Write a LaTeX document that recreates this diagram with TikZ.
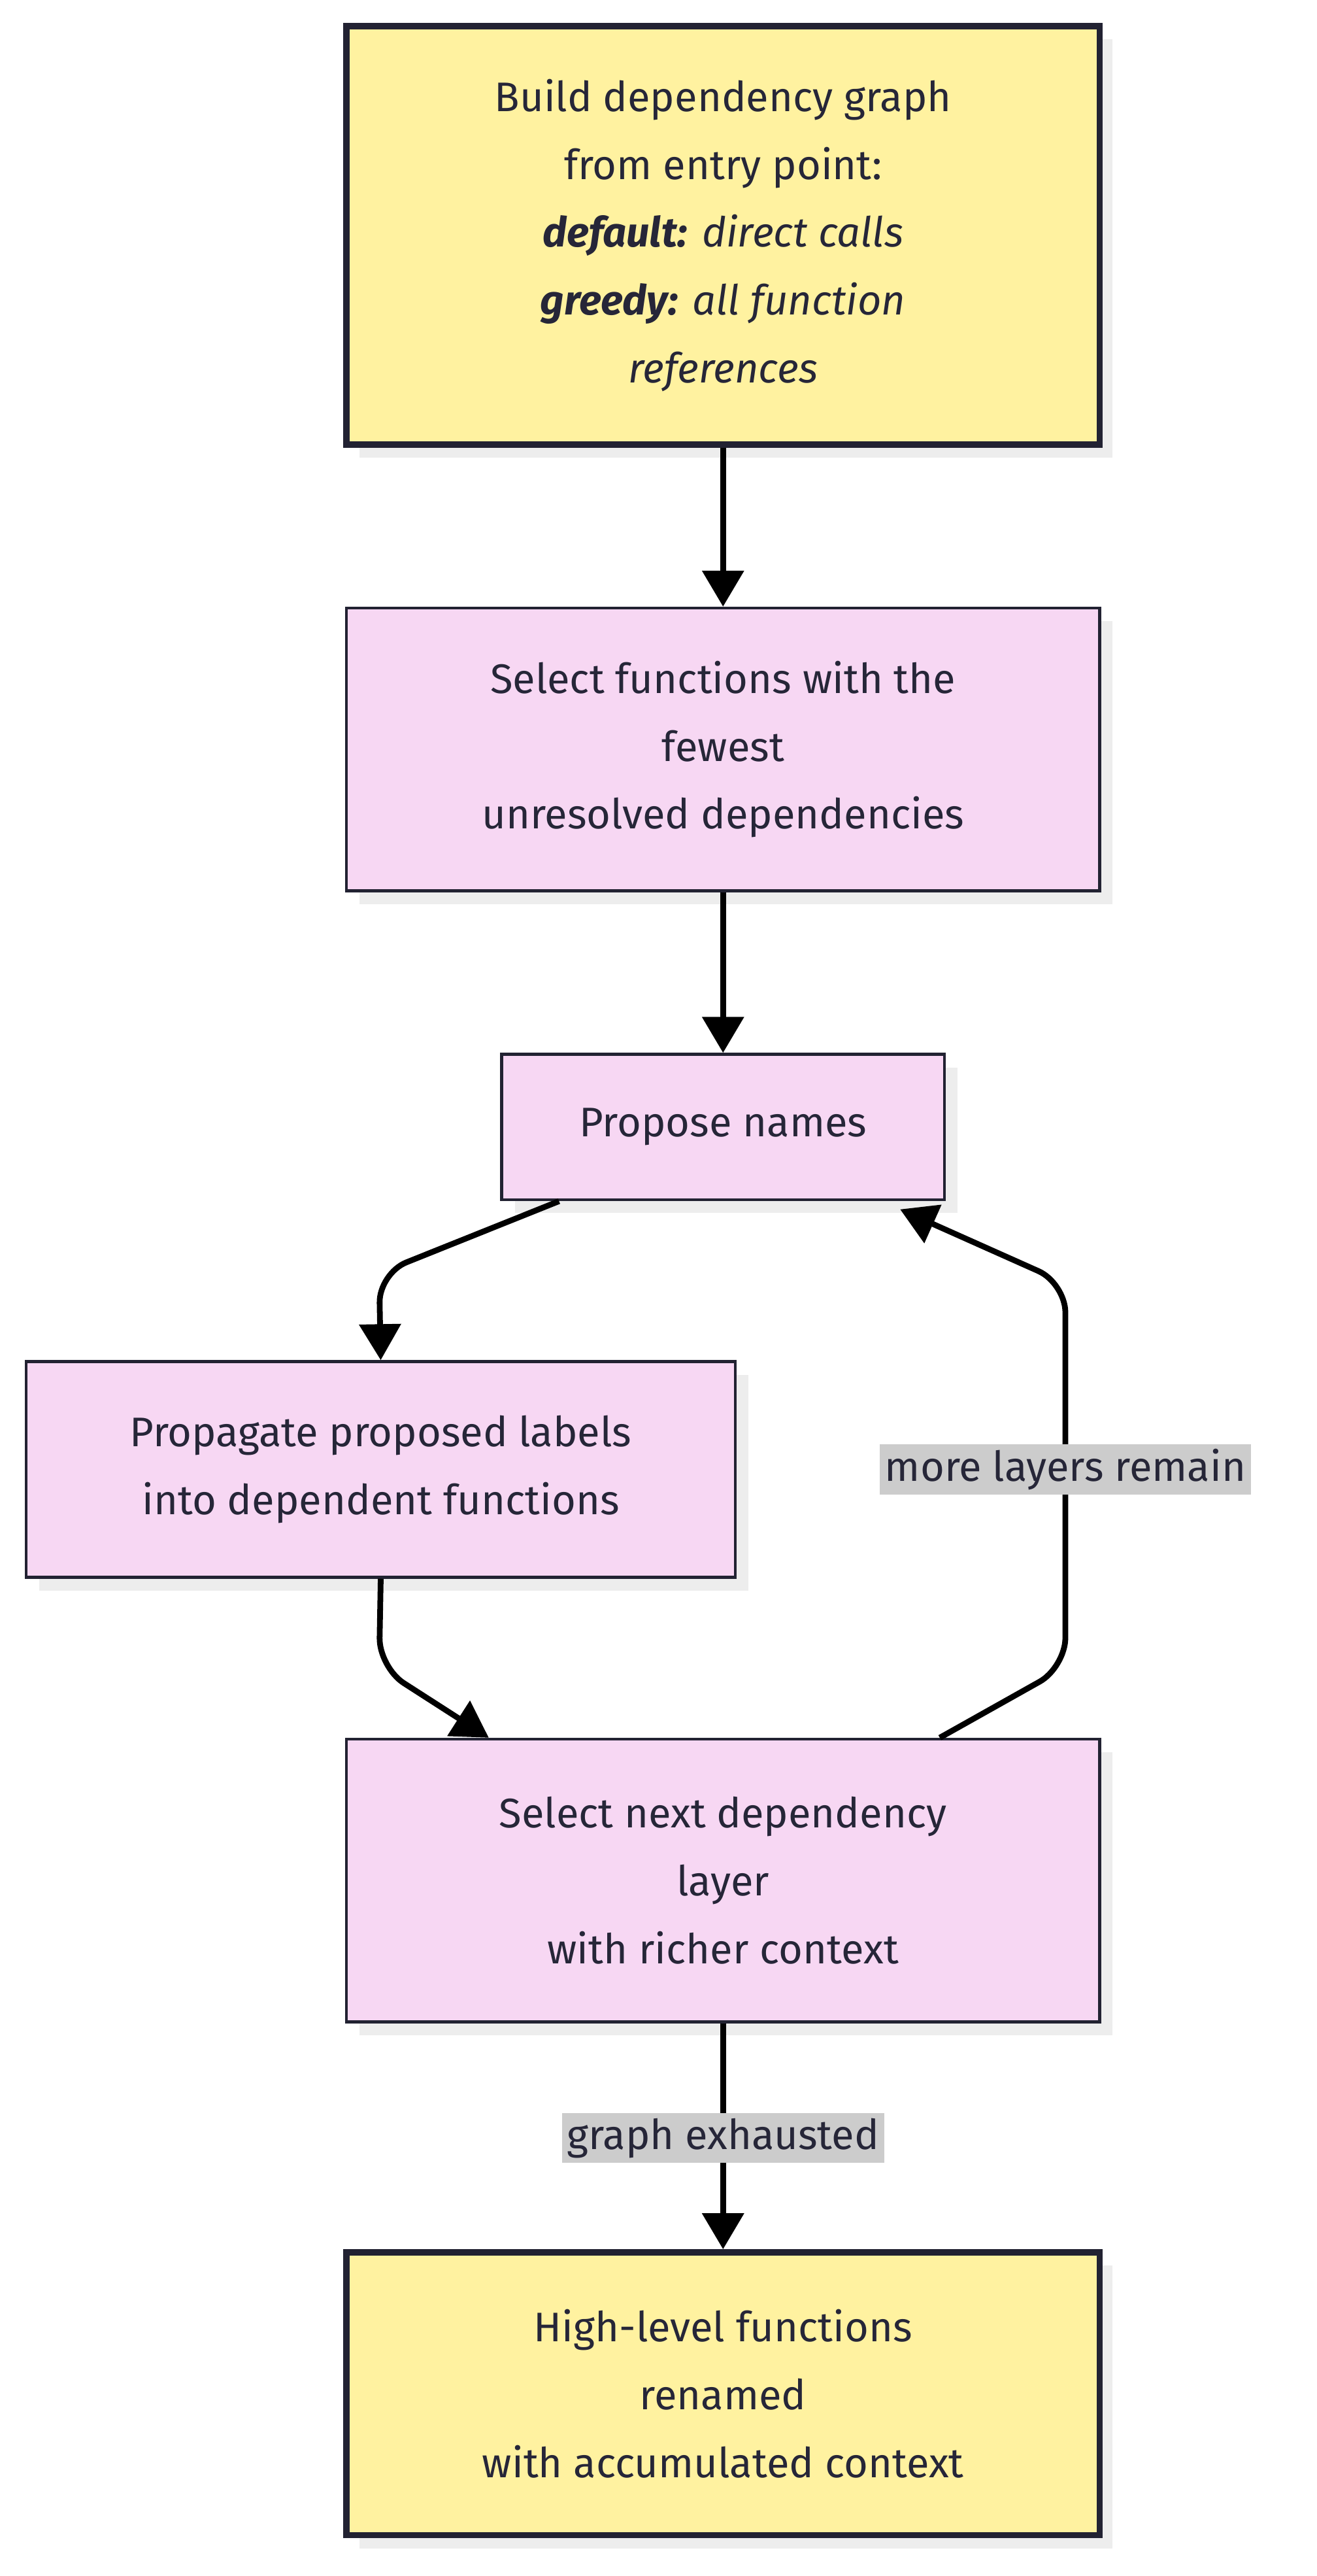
\documentclass[tikz,border=0pt]{standalone}
\usepackage{fontspec}
\setmainfont{Fira Sans}
\usetikzlibrary{shadows,calc,arrows.meta}
\definecolor{ink}{HTML}{262638}
\definecolor{yel}{HTML}{FFF2A0}
\definecolor{pnk}{HTML}{F7D7F3}
\definecolor{lab}{HTML}{CCCCCC}
\tikzset{
 base/.style={draw=ink!90!black, text=ink, align=center, font=\fontsize{36}{59}\selectfont,
   drop shadow={shadow xshift=0.4cm, shadow yshift=-0.4cm, fill=black!7, opacity=1}},
 ybox/.style={base, fill=yel, line width=5.5pt},
 pbox/.style={base, fill=pnk, line width=2.5pt},
 conn/.style={line width=5pt, draw=black, rounded corners=0.9cm, -{Triangle[length=1.1cm,width=1.25cm]}},
 elab/.style={fill=lab, text=ink, font=\fontsize{36}{44}\selectfont, inner sep=0.15cm}
}
\begin{document}
\begin{tikzpicture}[x=0.05cm,y=-0.05cm]
\useasboundingbox (0,0) rectangle (806,1576);
\node[ybox, minimum width=23.05cm, minimum height=12.8cm] (A) at (442.5,144)
 {Build dependency graph\\ from entry point:\\ \textbf{\textit{default:}} \textit{direct calls}\\ \textbf{\textit{greedy:}} \textit{all function}\\ \textit{references}};
\node[pbox, minimum width=23.05cm, minimum height=8.65cm] (B) at (442.5,458.5)
 {Select functions with the\\ fewest\\ unresolved dependencies};
\node[pbox, minimum width=13.55cm, minimum height=4.45cm] (C) at (442.5,689.5) {Propose names};
\node[pbox, minimum width=21.7cm, minimum height=6.6cm] (D) at (233,899)
 {Propagate proposed labels\\ into dependent functions};
\node[pbox, minimum width=23.05cm, minimum height=8.65cm] (E) at (442.5,1150.5)
 {Select next dependency\\ layer\\ with richer context};
\node[ybox, minimum width=23.05cm, minimum height=8.65cm] (F) at (442.5,1464.5)
 {High-level functions\\ renamed\\ with accumulated context};
\draw[conn] (A.south) -- (B.north);
\draw[conn] (B.south) -- (C.north);
\draw[conn] ($(C.south west)+(36,0)$) -- (232,779) -- (D.north);
\draw[conn] (D.south) -- (232,1020) -- ($(E.north west)+(88,0)$);
\draw[conn] ($(E.north west)+(364,0)$) -- (652,1020) -- (652,785) -- ($(C.south east)+(-28,5)$);
\draw[conn] (E.south) -- (F.north);
\node[elab] (L1) at (652,899) {more layers remain};
\node[elab] (L2) at (442.5,1308) {graph exhausted};
\end{tikzpicture}
\end{document}
